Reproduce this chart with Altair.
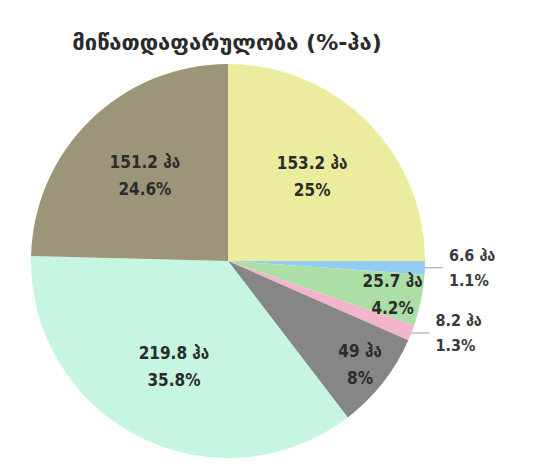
import altair as alt
import pandas as pd

title_text = "მიწათდაფარულობა (%-ჰა)"
unit = "ჰა"
areas_ha = [153.2, 6.6, 25.7, 8.2, 49, 219.8, 151.2]
shares_pct = [25, 1.1, 4.2, 1.3, 8, 35.8, 24.6]
slice_colors = ["#ecec9e", "#92ccf2", "#acdfa6", "#f2b5cc", "#868686", "#c6f5e2", "#9c957a"]

df = pd.DataFrame({
    "order": list(range(len(areas_ha))),
    "ha": areas_ha,
    "pct": shares_pct,
    "color": slice_colors,
})
df["label"] = [f"{h:g} {unit}\n{p:g}%" for h, p in zip(areas_ha, shares_pct)]

CX, CY, R = 220, 203, 197
FONT = "DejaVu Sans Condensed, DejaVu Sans"

base = alt.Chart(df).transform_window(
    cum="sum(pct)", sort=[alt.SortField("order")], frame=[None, 0]
).transform_calculate(
    a0="(datum.cum - datum.pct) / 100 * 2 * PI",
    a1="datum.cum / 100 * 2 * PI",
    mid="(datum.cum - datum.pct / 2) / 100 * 2 * PI",
    lr="datum.pct > 20 ? 119 : 168",
).transform_calculate(
    lx=f"{CX} + datum.lr * sin(datum.mid)",
    ly=f"{CY} - datum.lr * cos(datum.mid)",
    ex=f"{CX} + {R} * sin(datum.mid)",
    ey=f"{CY} - {R} * cos(datum.mid)",
).transform_calculate(
    ex2="datum.ex + 18",
    tx="datum.ex + 24",
)

arcs = base.mark_arc(outerRadius=R).encode(
    theta=alt.Theta("a0:Q", scale=None),
    theta2="a1:Q",
    color=alt.Color("color:N", scale=None),
    x=alt.value(CX),
    y=alt.value(CY),
)

inner = base.transform_filter("datum.pct >= 2").mark_text(
    lineBreak="\n", fontSize=17, font=FONT, fontWeight="bold", color="#2b2b2b",
    lineHeight=27, baseline="middle", dy=-13
).encode(
    x=alt.X("lx:Q", scale=None, axis=None),
    y=alt.Y("ly:Q", scale=None, axis=None),
    text=alt.Text("label:N"),
)

outer_base = base.transform_filter("datum.pct < 2")

leaders = outer_base.mark_rule(color="#9a9a9a", strokeWidth=1).encode(
    x=alt.X("ex:Q", scale=None, axis=None),
    x2="ex2:Q",
    y=alt.Y("ey:Q", scale=None, axis=None),
)

outer_text = outer_base.mark_text(
    lineBreak="\n", fontSize=16, font=FONT, fontWeight="bold", color="#3a3a3a",
    lineHeight=25, align="left", baseline="middle", dy=-12
).encode(
    x=alt.X("tx:Q", scale=None, axis=None),
    y=alt.Y("ey:Q", scale=None, axis=None),
    text="label:N",
)

chart = alt.layer(arcs, inner, leaders, outer_text).properties(
    width=524,
    height=410,
    title=alt.TitleParams(
        title_text, fontSize=22, font="DejaVu Sans", fontWeight="bold",
        color="#2a2a2a", anchor="middle", dx=-43, offset=3
    ),
    autosize=alt.AutoSizeParams(type="none"),
    padding={"top": 50, "left": 0, "right": 0, "bottom": 0},
).configure_view(stroke=None)

chart.save("out.html", embed_options={"renderer": "svg", "actions": False})
